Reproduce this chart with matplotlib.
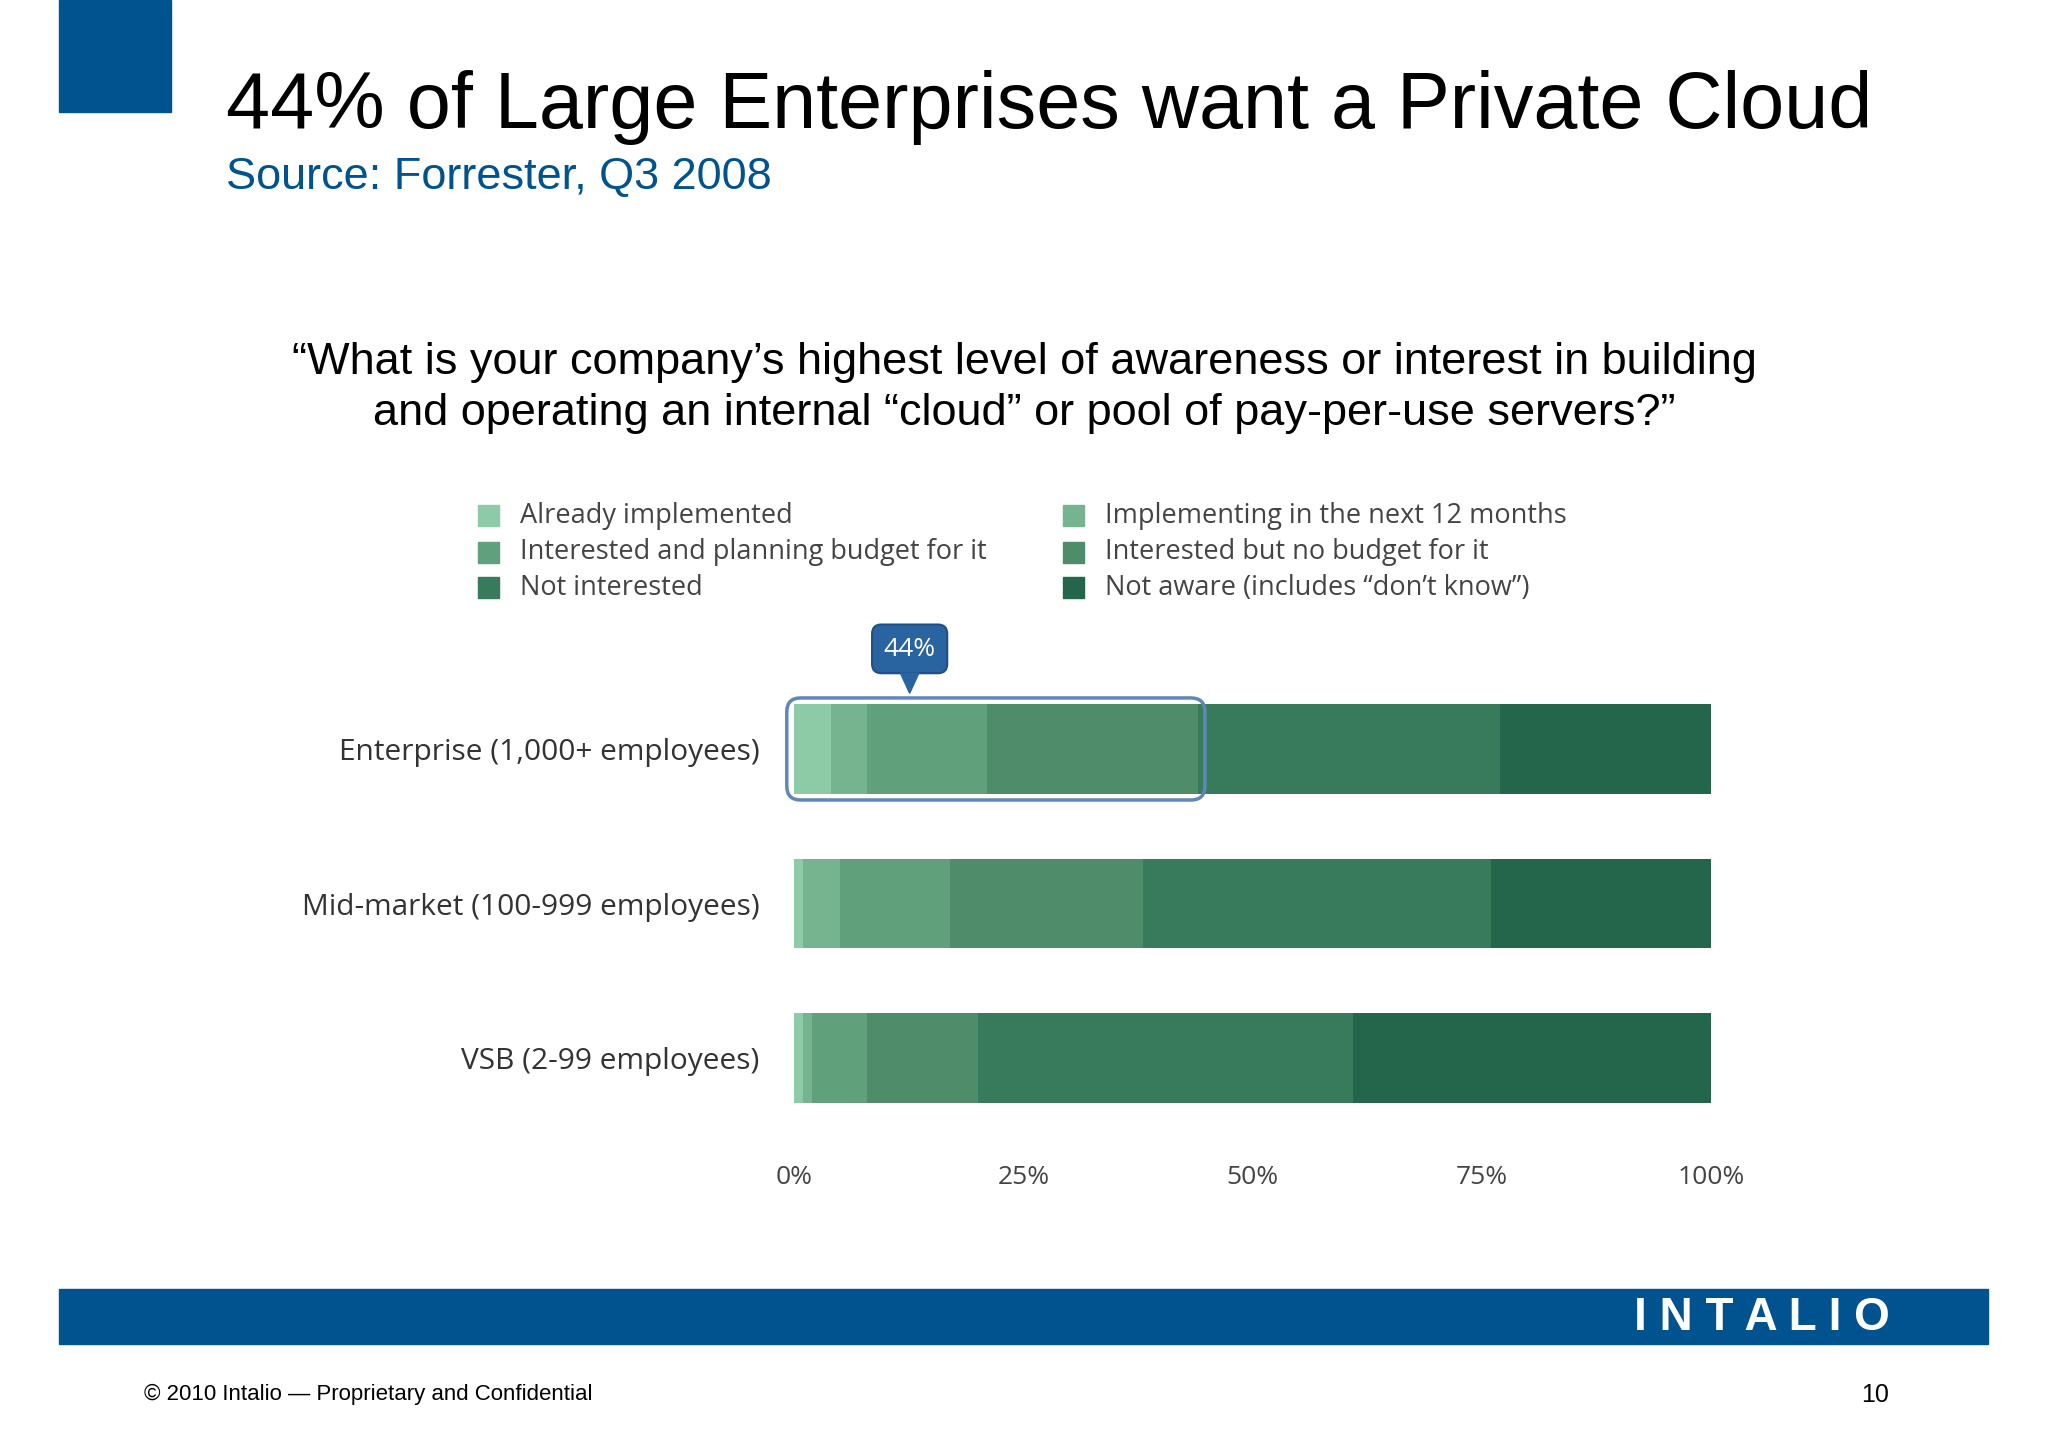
import matplotlib.pyplot as plt
from matplotlib.patches import FancyBboxPatch, Rectangle, Polygon
import numpy as np

categories = ["Enterprise (1,000+ employees)", "Mid-market (100-999 employees)", "VSB (2-99 employees)"]
series_names = ["Already implemented", "Implementing in the next 12 months",
                "Interested and planning budget for it", "Interested but no budget for it",
                "Not interested", "Not aware (includes \u201cdon\u2019t know\u201d)"]
already = [4, 1, 1]
implementing = [4, 4, 1]
planning = [13, 12, 6]
no_budget = [23, 21, 12]
not_interested = [33, 38, 41]
not_aware = [23, 24, 39]
colors = ["#8dcba6", "#76b48f", "#60a07b", "#4e8c6a", "#377a5c", "#23664b"]
ticks = [0, 25, 50, 75, 100]
tick_labels = ["0%", "25%", "50%", "75%", "100%"]

BLUE = "#00538f"
W, H = 1568, 1108  # layout measured on the displayed reference


def fx(x):
    return x / W


def fy(y):
    return 1 - y / H


fig = plt.figure(figsize=(20.48, 14.47), dpi=100)
fig.patch.set_facecolor("white")
sans = ["Liberation Sans", "DejaVu Sans"]
chart_font = ["Open Sans", "DejaVu Sans"]

# header
fig.patches.append(Rectangle((fx(45), fy(86)), fx(86), 86 / H, transform=fig.transFigure,
                             color=BLUE, zorder=0))
fig.text(fx(173), fy(98), "44% of Large Enterprises want a Private Cloud", fontsize=57,
         family=sans, color="black", va="baseline")
fig.text(fx(173), fy(136), "Source: Forrester, Q3 2008", fontsize=32.5, family=sans,
         color=BLUE, va="center")
fig.text(fx(784), fy(297), "\u201cWhat is your company\u2019s highest level of awareness or interest in building\n"
         "and operating an internal \u201ccloud\u201d or pool of pay-per-use servers?\u201d",
         fontsize=32.5, family=sans, ha="center", va="center", linespacing=1.3)

# legend
leg_pos = [(374, 395), (822, 395), (374, 423), (822, 423), (374, 450), (822, 450)]
for (lx, ly), name, c in zip(leg_pos, series_names, colors):
    fig.patches.append(Rectangle((fx(lx - 8), fy(ly + 8)), fx(16), 16 / H,
                                 transform=fig.transFigure, color=c))
    fig.text(fx(lx + 24), fy(ly), name, fontsize=19.5, family=chart_font, color="#444444",
             va="center")

# bars
ax = fig.add_axes([fx(608), fy(860), fx(1310 - 608), (860 - 520) / H])
y = np.arange(len(categories))
left = np.zeros(len(categories))
for vals, c in zip([already, implementing, planning, no_budget, not_interested, not_aware], colors):
    ax.barh(y, vals, left=left, height=0.58, color=c, edgecolor="none")
    left += np.array(vals)

ax.set_xlim(0, 100)
ax.set_ylim(2.42, -0.452)
ax.set_yticks(y)
ax.set_yticklabels(categories, fontsize=21.5, family=chart_font, color="#333333")
ax.set_xticks(ticks)
ax.set_xticklabels(tick_labels, fontsize=19, family=chart_font, color="#444444")
ax.tick_params(length=0, axis="y", pad=25)
ax.tick_params(length=0, axis="x", pad=30)
for s in ax.spines.values():
    s.set_visible(False)

# highlight of the 44%
hl = sum(v[0] for v in [already, implementing, planning, no_budget])
ax.add_patch(FancyBboxPatch((-0.8, -0.33), hl + 1.6, 0.66,
                            boxstyle="round,pad=0,rounding_size=1.5", mutation_aspect=0.06,
                            fill=False, edgecolor="#5f87b8", linewidth=2.5, clip_on=False))
# callout
cx = 12.6
ax.add_patch(FancyBboxPatch((cx - 4.1, -0.805), 8.2, 0.315,
                            boxstyle="round,pad=0,rounding_size=1.0", mutation_aspect=0.06,
                            facecolor="#2a64a0", edgecolor="#1f4f85", linewidth=1.5,
                            clip_on=False))
ax.add_patch(Polygon([[cx - 1, -0.49], [cx + 1, -0.49], [cx, -0.36]], closed=True,
                     color="#2a64a0", clip_on=False))
ax.text(cx, -0.645, f"{hl}%", ha="center", va="center", color="white", fontsize=19,
        family=chart_font)

# footer
fig.patches.append(Rectangle((fx(45), fy(1029)), fx(1522 - 45), 42 / H,
                             transform=fig.transFigure, color=BLUE))
fig.text(fx(1447), fy(1009), "I N T A L I O", fontsize=33, family=sans, weight="bold",
         color="white", ha="right", va="center")
fig.text(fx(110), fy(1068), "\u00a9 2010 Intalio \u2014 Proprietary and Confidential",
         fontsize=16, family=sans, va="center")
fig.text(fx(1446), fy(1068), "10", fontsize=18, family=sans, va="center", ha="right")

fig.savefig("out.png", dpi=100)
